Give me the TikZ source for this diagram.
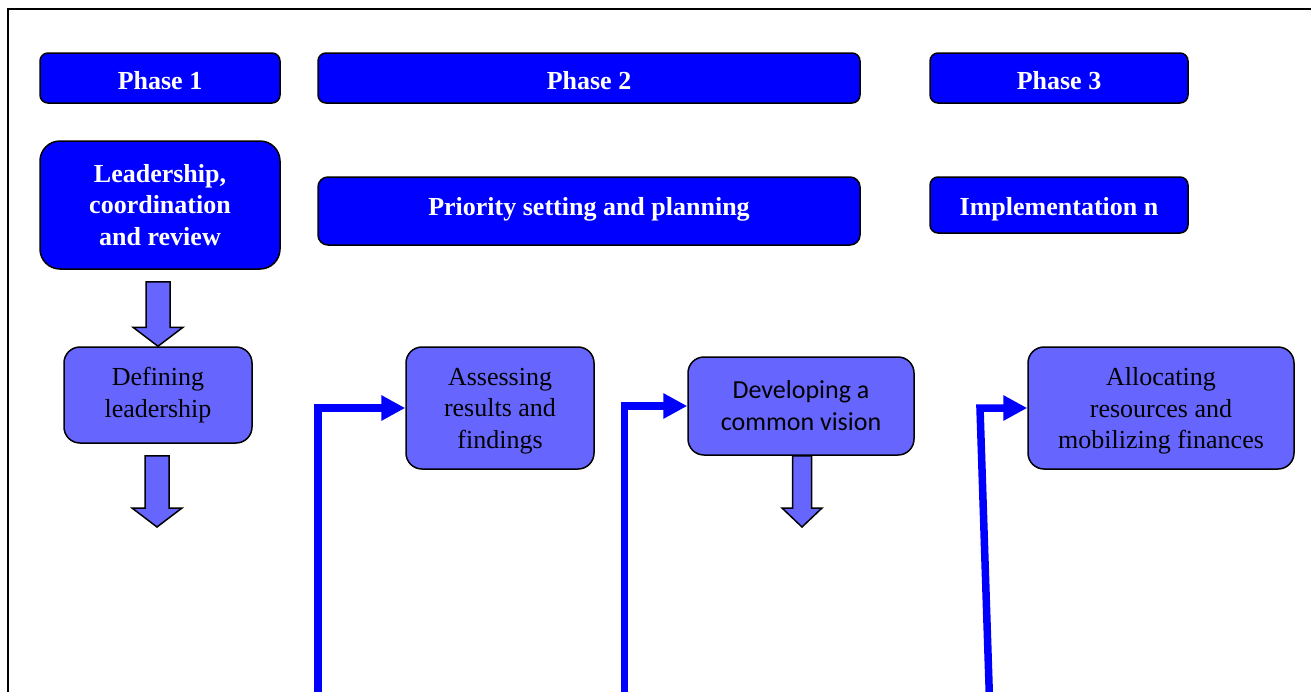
\documentclass[tikz,border=0pt]{standalone}
\usepackage{fontspec}
\setmainfont{Liberation Serif}
\newfontfamily\calfont{Carlito}
\usetikzlibrary{arrows.meta,calc}

\definecolor{phaseblue}{HTML}{0000FF}
\definecolor{stepblue}{HTML}{6666FF}

\tikzset{
  darkbox/.style={draw=black, line width=1.5pt, fill=phaseblue, rounded corners=8pt,
    text=white, font=\fontsize{26}{31.5}\selectfont\bfseries, align=center, inner sep=0pt},
  stepbox/.style={draw=black, line width=1.5pt, fill=stepblue, rounded corners=16pt,
    font=\fontsize{26}{31.5}\selectfont, align=center, inner sep=0pt},
  feed/.style={draw=phaseblue, line width=7.5pt, -{Triangle[length=24pt,width=24pt]}},
  blkarr/.style={draw=black, line width=1.5pt, fill=stepblue, line join=miter},
}

% block arrow: top, tip, shaft half width, head half width
\newcommand{\blkarrow}[4]{%
  \draw[blkarr] let \p1=#1, \p2=#2 in
    (\x2-#3pt,\y1) -- (\x2+#3pt,\y1) -- (\x2+#3pt,\y2+19pt) -- (\x2+#4pt,\y2+19pt)
    -- (\x2,\y2) -- (\x2-#4pt,\y2+19pt) -- (\x2-#3pt,\y2+19pt) -- cycle;}

\begin{document}
\begin{tikzpicture}[x=1pt,y=-1pt]
  \useasboundingbox (0,0) rectangle (1311,691);
  \draw[line width=2pt] (8,720) -- (8,9) -- (1340,9);

  % phases
  \node[darkbox, text height=23.6pt, minimum width=240pt, minimum height=50pt] (ph1) at (160,78) {Phase 1};
  \node[darkbox, text height=23.6pt, minimum width=542pt, minimum height=50pt] (ph2) at (589,78) {Phase 2};
  \node[darkbox, text height=23.6pt, minimum width=258pt, minimum height=50pt] (ph3) at (1059,78) {Phase 3};

  \node[darkbox, rounded corners=20pt, minimum width=240pt, minimum height=128pt] (lead) at (160,205)
    {Leadership,\\coordination\\and review};
  \node[darkbox, rounded corners=10pt, text depth=9.7pt, minimum width=542pt, minimum height=68pt] (prio) at (589,211)
    {Priority setting and planning};
  \node[darkbox, text height=25.6pt, minimum width=258pt, minimum height=56pt] (impl) at (1059,205) {Implementation n};

  % steps
  \node[stepbox, minimum width=188pt, minimum height=96pt] (defl) at (158,395) {Defining\\leadership};
  \node[stepbox, text depth=-4.3pt, minimum width=188pt, minimum height=122pt] (assess) at (500,408)
    {Assessing\\results and\\findings};
  \node[stepbox, minimum width=226pt, minimum height=98pt, font=\fontsize{26}{32}\calfont] (devel) at (801,406)
    {Developing a\\common vision};
  \node[stepbox, text depth=-4.3pt, minimum width=266pt, minimum height=122pt] (alloc) at (1161,408)
    {Allocating\\resources and\\mobilizing finances};

  % block arrows
  \coordinate (a2) at (157,527);
  \coordinate (a3) at (802,527);
  \blkarrow{($(lead.south)+(0,12)$)}{(defl.north)}{12}{25}
  \blkarrow{($(defl.south)+(0,12)$)}{(a2)}{12}{25}
  \blkarrow{(devel.south)}{(a3)}{9.5}{20}

  % feeds
  \coordinate (fa) at (318,700);
  \coordinate (fb) at (624.5,700);
  \coordinate (fc) at (989.5,700);
  \coordinate (fcbend) at (980,408);
  \draw[feed] (fa) |- (assess.west);
  \draw[feed] (fb) |- (devel.west);
  \draw[feed] (fc) -- (fcbend) -- (alloc.west);
\end{tikzpicture}
\end{document}
